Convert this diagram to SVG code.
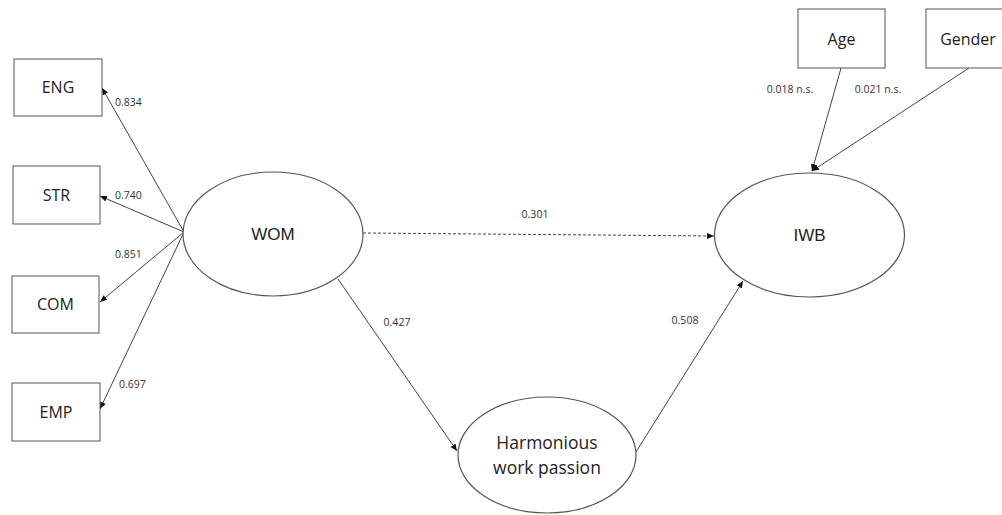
<svg xmlns="http://www.w3.org/2000/svg" width="1002" height="515" viewBox="0 0 1002 515">
<defs>
<style>
.box{fill:#fff;stroke:#555;stroke-width:1}
.ell{fill:#fff;stroke:#555;stroke-width:1.2}
.lbl{font-family:"Open Sans","Liberation Sans",sans-serif;font-size:16px;fill:#222;text-anchor:middle}
.hwp{font-family:"Open Sans","Liberation Sans",sans-serif;font-size:17.5px;fill:#222;text-anchor:middle}
.big{font-family:"Liberation Sans",Arial,sans-serif;font-size:17px;fill:#222;text-anchor:middle}
.num{font-family:"Open Sans","Liberation Sans",sans-serif;font-size:10.5px;fill:#333}
.edge{stroke:#444;stroke-width:1;fill:none;marker-end:url(#ah)}
</style>
<marker id="ah" markerWidth="8" markerHeight="8" refX="7" refY="4" orient="auto" markerUnits="userSpaceOnUse">
<path d="M0,1 L7,4 L0,7 Z" fill="#111"/>
</marker>
</defs>
<rect width="1002" height="515" fill="#fff"/>
<g id="connectors">
<line class="edge" x1="184" y1="232" x2="102" y2="88"/>
<line class="edge" x1="184" y1="232" x2="100" y2="196"/>
<line class="edge" x1="184" y1="232" x2="100" y2="302"/>
<line class="edge" x1="184" y1="232" x2="100" y2="409"/>
<line class="edge" x1="363" y1="233" x2="714" y2="236" stroke-dasharray="3,2"/>
<line class="edge" x1="338" y1="279" x2="457" y2="451"/>
<line class="edge" x1="636" y1="452" x2="743" y2="281"/>
<line class="edge" x1="841" y1="68" x2="812" y2="171"/>
<line class="edge" x1="969" y1="68" x2="812" y2="171"/>
<text class="num" x="115" y="106">0.834</text>
<text class="num" x="115" y="199">0.740</text>
<text class="num" x="115" y="258">0.851</text>
<text class="num" x="119" y="388">0.697</text>
<text class="num" x="535" y="218" text-anchor="middle">0.301</text>
<text class="num" x="397" y="326" text-anchor="middle">0.427</text>
<text class="num" x="685" y="324" text-anchor="middle">0.508</text>
<text class="num" x="790" y="93" text-anchor="middle">0.018 n.s.</text>
<text class="num" x="878" y="93" text-anchor="middle">0.021 n.s.</text>
</g>
<g id="ENG"><rect class="box" x="14" y="59" width="88" height="57"/><text class="lbl" x="58" y="93">ENG</text></g>
<g id="STR"><rect class="box" x="13" y="166" width="87" height="58"/><text class="lbl" x="56.5" y="201">STR</text></g>
<g id="COM"><rect class="box" x="12" y="276" width="87" height="57"/><text class="lbl" x="55.5" y="310">COM</text></g>
<g id="EMP"><rect class="box" x="12" y="383" width="88" height="58"/><text class="lbl" x="56" y="418">EMP</text></g>
<g id="Age"><rect class="box" x="798" y="9" width="87" height="59"/><text class="lbl" x="841.5" y="45">Age</text></g>
<g id="Gender"><rect class="box" x="926" y="9" width="90" height="59"/><text class="lbl" x="968" y="45">Gender</text></g>
<g id="WOM"><ellipse class="ell" cx="273" cy="234" rx="90" ry="62"/><text class="big" x="273" y="240">WOM</text></g>
<g id="IWB"><ellipse class="ell" cx="809.5" cy="235" rx="95" ry="62"/><text class="big" x="809.5" y="241">IWB</text></g>
<g id="HWP"><ellipse class="ell" cx="547" cy="455" rx="89" ry="58"/><text class="hwp" x="547" y="449">Harmonious</text><text class="hwp" x="547" y="474">work passion</text></g>
</svg>
